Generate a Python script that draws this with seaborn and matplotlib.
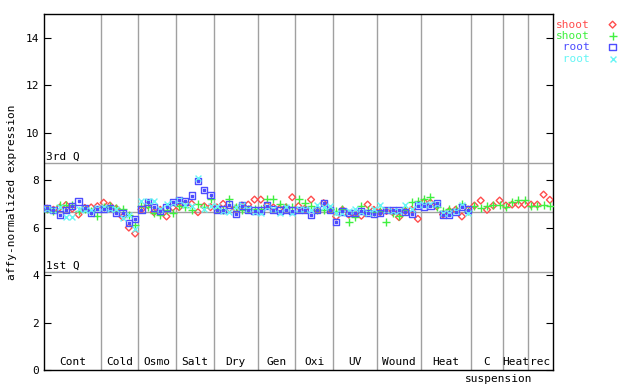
import numpy as np
import pandas as pd
import seaborn as sns
import matplotlib
matplotlib.use('Agg')
import matplotlib.pyplot as plt
import matplotlib.transforms as mtransforms

# groups of samples along the x axis
groups = ['Cont', 'Cold', 'Osmo', 'Salt', 'Dry', 'Gen', 'Oxi', 'UV', 'Wound', 'Heat', 'C', 'Heat', 'rec']
group_sizes = [9, 6, 6, 6, 7, 6, 6, 7, 7, 8, 5, 4, 4]

# quartiles of the chip
q1, median, q3 = 4.12, 6.64, 8.74

shoot_red = [6.80, 6.75, 6.85, 6.95, 6.80, 6.55, 6.83, 6.85, 6.90,
             7.05, 6.93, 6.80, 6.45, 6.00, 5.75,
             6.76, 6.95, 6.65, 6.75, 6.47, 6.85,
             6.86, 7.00, 7.00, 6.65, 6.90, 6.86,
             6.85, 7.00, 6.80, 6.80, 6.93, 6.97, 7.18,
             7.18, 6.93, 6.85, 6.80, 6.85, 7.28,
             6.90, 6.80, 7.18, 6.75, 7.03, 6.75,
             6.47, 6.75, 6.55, 6.60, 6.50, 6.97, 6.75,
             6.65, 6.70, 6.65, 6.44, 6.70, 6.75, 6.37,
             7.07, 7.05, 6.90, 6.55, 6.70, 6.75, 6.47, 6.76,
             6.93, 7.14, 6.75, 6.93, 7.14,
             6.93, 6.97, 6.97, 6.97,
             6.97, 6.97, 7.39, 7.17]
shoot_green = [6.78, 6.70, 6.95, 6.95, 6.95, 6.72, 6.80, 6.70, 6.50,
               6.85, 6.90, 6.83, 6.80, 6.55, 6.10,
               6.90, 6.85, 6.60, 6.55, 6.75, 6.60,
               6.93, 6.86, 6.75, 7.00, 6.86, 7.22,
               6.80, 6.75, 7.20, 6.85, 6.75, 6.80, 6.80,
               6.80, 7.20, 7.20, 7.00, 6.85, 6.85,
               7.20, 7.03, 6.90, 6.75, 6.75, 6.80,
               6.70, 6.79, 6.23, 6.44, 6.89, 6.75, 6.65,
               6.70, 6.23, 6.60, 6.50, 6.75, 7.07, 7.10,
               7.20, 7.28, 6.86, 6.70, 6.80, 6.80, 7.00, 6.70,
               6.93, 6.83, 6.90, 6.97, 6.97,
               6.86, 7.07, 7.17, 7.17,
               6.89, 6.93, 6.97, 6.93]
root_blue = [6.83, 6.75, 6.55, 6.75, 6.90, 7.10, 6.83, 6.60, 6.78,
             6.78, 6.83, 6.60, 6.60, 6.20, 6.35,
             6.76, 7.07, 6.85, 6.70, 6.85, 7.07,
             7.17, 7.10, 7.35, 7.95, 7.59, 7.38,
             6.76, 6.76, 6.97, 6.58, 6.93, 6.76, 6.72,
             6.72, 6.93, 6.76, 6.72, 6.76, 6.72,
             6.75, 6.75, 6.54, 6.75, 7.03, 6.75,
             6.23, 6.68, 6.60, 6.60, 6.69, 6.60, 6.58,
             6.60, 6.75, 6.75, 6.75, 6.65, 6.58, 6.93,
             6.89, 6.90, 7.03, 6.55, 6.55, 6.65, 6.86, 6.76,
             np.nan, np.nan, np.nan, np.nan, np.nan,
             np.nan, np.nan, np.nan, np.nan,
             np.nan, np.nan, np.nan, np.nan]
root_cyan = [6.80, 6.75, 6.85, 6.45, 6.44, 6.78, 6.75, 6.75, 6.82,
             6.85, 6.80, 6.80, 6.40, 6.55, 5.95,
             7.14, 7.10, 7.14, 6.80, 7.00, 7.05,
             7.15, 6.95, 6.90, 8.09, 6.80, 6.90,
             6.90, 6.70, 6.65, 6.85, 6.95, 6.80, 6.65,
             6.60, 6.85, 6.80, 6.60, 6.85, 6.60,
             6.80, 6.80, 6.75, 6.95, 6.85, 6.90,
             6.60, 6.62, 6.70, 6.80, 6.65, 6.62, 6.80,
             6.95, 6.75, 6.70, 6.70, 6.97, 6.80, 7.00,
             6.95, 7.00, 7.00, 6.60, 6.60, 6.70, 6.95, 6.60,
             np.nan, np.nan, np.nan, np.nan, np.nan,
             np.nan, np.nan, np.nan, np.nan,
             np.nan, np.nan, np.nan, np.nan]

n = sum(group_sizes)
df = pd.DataFrame({'x': np.arange(n), 'shoot_red': shoot_red, 'shoot_green': shoot_green,
                   'root_blue': root_blue, 'root_cyan': root_cyan})

plt.rcParams['font.family'] = ['DejaVu Sans Mono']
fig = plt.figure(figsize=(6.4, 3.84), dpi=100)
ax = fig.add_axes([44/640, 14/384, (553-44)/640, 356/384])

# group separators and quartile lines
bounds = np.cumsum(group_sizes) - 0.5
for b in bounds[:-1]:
    ax.axvline(b, color='#a0a0a0', lw=1, zorder=0)
for q in (q1, median, q3):
    ax.axhline(q, color='#a0a0a0', lw=1, zorder=0)

series = [('shoot_red', 'shoot', '#ff4d4d', 'D', 12),
          ('shoot_green', 'shoot', '#40f040', '+', 28),
          ('root_blue', ' root', '#4d4dff', 's', 20),
          ('root_cyan', ' root', '#66f5f5', 'x', 18)]
for col, lab, c, m, s in series:
    if m in ('D', 's'):
        sns.scatterplot(data=df, x='x', y=col, ax=ax, marker=m, s=s, fc='none', ec=c,
                        linewidth=1, label=lab, zorder=3)
    else:
        sns.scatterplot(data=df, x='x', y=col, ax=ax, marker=m, s=s, color=c,
                        linewidth=1, label=lab, zorder=3)
# center dot of the root squares
ax.scatter(df['x'], df['root_blue'], s=1, color='#4d4dff', marker='s', zorder=4)

ax.set_xlim(-0.5, n - 0.5)
ax.set_ylim(0, 15)
ax.set_yticks(range(0, 15, 2))
ax.set_xticks([])
ax.tick_params(axis='y', direction='in', length=5, left=True, right=True, labelsize=8, color='black')
ax.set_xlabel('')
ax.set_ylabel('affy-normalized expression', fontsize=8, labelpad=6)
for sp in ax.spines.values():
    sp.set_color('black')
    sp.set_linewidth(1)

# group labels at the bottom inside the axes
trans = mtransforms.blended_transform_factory(ax.transData, ax.transAxes)
starts = np.concatenate([[-0.5], bounds[:-1]])
for g, a, b in zip(groups, starts, bounds):
    ax.text((a + b) / 2, 0.008, g, transform=trans, ha='center', va='bottom', fontsize=8)
c_mid = (starts[10] + bounds[10]) / 2
ax.text(c_mid + 1.8, -0.012, 'suspension', transform=trans, ha='center', va='top',
        fontsize=8, clip_on=False)

qtrans = mtransforms.blended_transform_factory(ax.transAxes, ax.transData)
ax.text(0.003, q3 + 0.05, '3rd Q', transform=qtrans, fontsize=8, va='bottom')
ax.text(0.003, q1 + 0.05, '1st Q', transform=qtrans, fontsize=8, va='bottom')

leg = ax.legend(loc='upper left', bbox_to_anchor=(0.994, 1.0), frameon=False, markerfirst=False,
                handletextpad=1.1, handlelength=2.0, labelspacing=0.12, borderpad=0.5,
                borderaxespad=0, fontsize=8,
                labelcolor=['#ff4d4d', '#40f040', '#4d4dff', '#66f5f5'])

fig.savefig('out.png', dpi=100)
